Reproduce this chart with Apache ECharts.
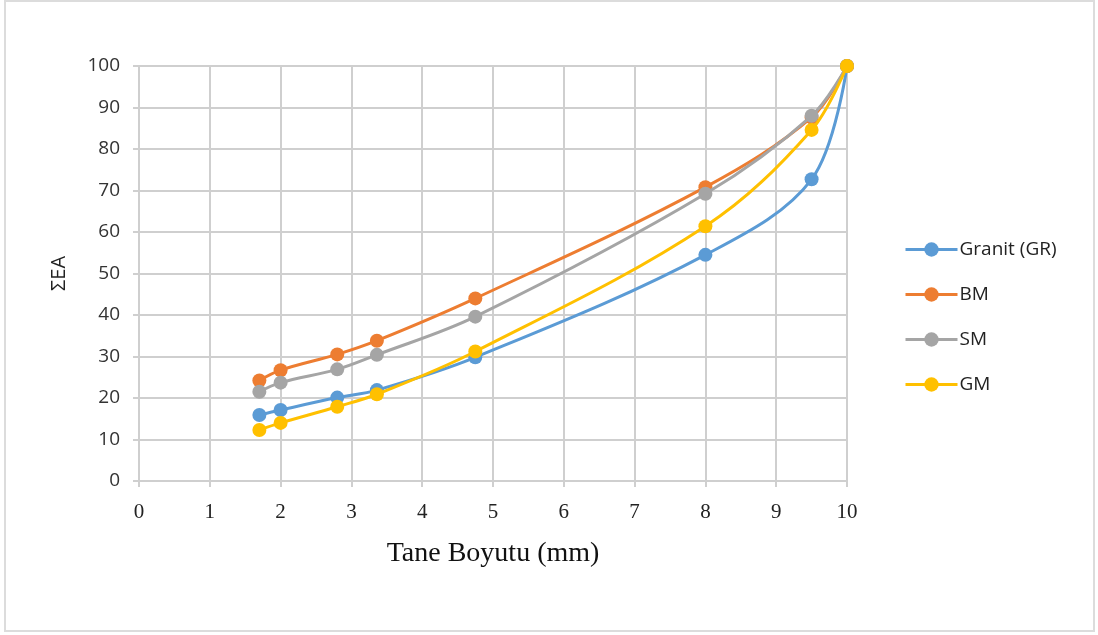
<!DOCTYPE html>
<html>
<head>
<meta charset="utf-8">
<script src="https://cdn.jsdelivr.net/npm/echarts@6/dist/echarts.min.js"></script>
<style>
  html, body { margin: 0; padding: 0; background: #ffffff; }
  #frame {
    position: absolute; left: 4px; top: 0px; width: 1087px; height: 628px;
    border: 2px solid #dcdcdc; background: #ffffff;
  }
  #chart { position: absolute; left: 0; top: 0; width: 1098px; height: 635px; }
</style>
</head>
<body>
<div id="frame"></div>
<div id="chart"></div>
<script>
// Sieve sizes (mm) and cumulative ΣEA values per material
const sizes = [1.7, 2, 2.8, 3.36, 4.75, 8, 9.5, 10];
const granit = [15.9, 17.1, 20.1, 21.9, 29.8, 54.5, 72.7, 100];
const bm     = [24.2, 26.7, 30.5, 33.8, 44.0, 70.8, 87.6, 100];
const sm     = [21.5, 23.7, 26.9, 30.4, 39.6, 69.2, 88.0, 100];
const gm     = [12.3, 14.0, 17.9, 20.9, 31.2, 61.4, 84.6, 100];

const seriesNames = ['Granit (GR)', 'BM', 'SM', 'GM'];
const seriesData = [granit, bm, sm, gm];
const colors = ['#5B9BD5', '#ED7D31', '#A5A5A5', '#FFC000'];

const xTicks = [0, 1, 2, 3, 4, 5, 6, 7, 8, 9, 10];
const yTicks = [0, 10, 20, 30, 40, 50, 60, 70, 80, 90, 100];

const gridColor = '#cfcfcf';

const chart = echarts.init(document.getElementById('chart'), null, { renderer: 'canvas' });

chart.setOption({
  backgroundColor: 'transparent',
  animation: false,
  grid: { left: 139, top: 66, width: 708, height: 415 },
  xAxis: {
    type: 'value',
    min: xTicks[0], max: xTicks[xTicks.length - 1], interval: 1,
    name: 'Tane Boyutu (mm)',
    nameLocation: 'middle',
    nameGap: 59,
    nameTextStyle: { fontFamily: 'Liberation Serif', fontSize: 28, color: '#111' },
    axisLine: { lineStyle: { color: gridColor, width: 2 } },
    axisTick: { show: true, length: 6, lineStyle: { color: gridColor, width: 2 } },
    axisLabel: { fontFamily: 'Liberation Serif', fontSize: 21, color: '#222', margin: 21 },
    splitLine: { show: true, lineStyle: { color: gridColor, width: 2 } }
  },
  yAxis: {
    type: 'value',
    min: yTicks[0], max: yTicks[yTicks.length - 1], interval: 10,
    name: 'ΣEA',
    nameLocation: 'middle',
    nameGap: 70,
    nameRotate: 90,
    nameTextStyle: { fontFamily: 'Open Sans', fontSize: 20, color: '#222' },
    axisLine: { show: true, lineStyle: { color: gridColor, width: 2 } },
    axisTick: { show: true, inside: false, length: 6, lineStyle: { color: gridColor, width: 2 } },
    axisLabel: { fontFamily: 'Open Sans', fontSize: 19, color: '#333', margin: 19 },
    splitLine: { show: true, lineStyle: { color: gridColor, width: 2 } }
  },
  legend: {
    orient: 'vertical',
    left: 899,
    top: 235,
    itemWidth: 52,
    itemHeight: 18,
    itemGap: 26,
    lineStyle: { width: 3 },
    textStyle: { fontFamily: 'Open Sans', fontSize: 19, color: '#222', padding: [0, 0, 0, -3] },
    data: seriesNames
  },
  series: seriesNames.map((name, i) => ({
    name: name,
    type: 'line',
    smooth: 0.35,
    data: sizes.map((x, j) => [x, seriesData[i][j]]),
    symbol: 'circle',
    symbolSize: 14,
    showSymbol: true,
    lineStyle: { color: colors[i], width: 3 },
    itemStyle: { color: colors[i], borderColor: colors[i], borderWidth: 0 },
    z: 2 + i
  }))
});
</script>
</body>
</html>
